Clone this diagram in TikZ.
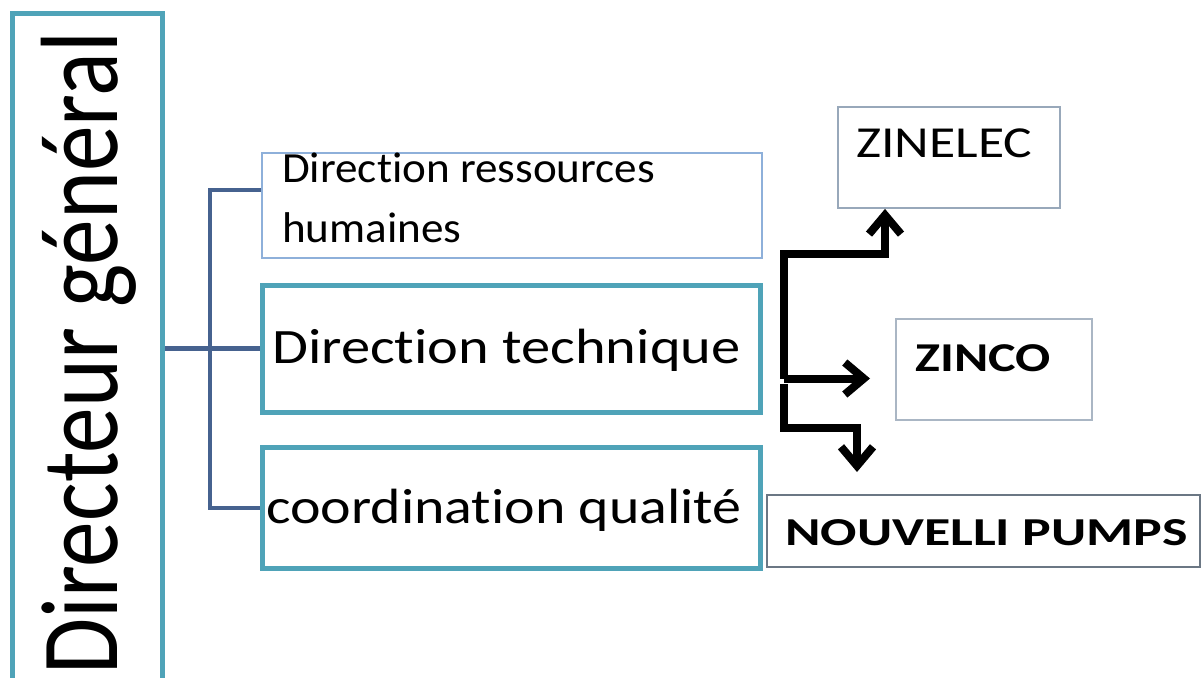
\documentclass[tikz,border=0pt]{standalone}
\usepackage{fontspec}
\setmainfont{Carlito}[Ligatures=NoCommon]
\usepackage{graphicx}
\usetikzlibrary{arrows.meta}
\definecolor{tealbox}{HTML}{4FA3B8}
\definecolor{rhblue}{HTML}{8EB0DA}
\definecolor{connblue}{HTML}{46628F}
\definecolor{zbox}{HTML}{98A8BA}
\definecolor{zcbox}{HTML}{AAB6C4}
\definecolor{npbox}{HTML}{6B7784}
\tikzset{
  tbox/.style={draw=tealbox, line width=5pt, rectangle, inner sep=0pt},
  rhbox/.style={draw=rhblue, line width=2.5pt, rectangle, inner sep=0pt},
  thinbox/.style={draw=#1, line width=1.8pt, rectangle, inner sep=0pt},
  lab/.style={inner sep=0pt, anchor=base west},
  conn/.style={draw=connblue, line width=4.5pt},
  arr/.style={draw=black, line width=8pt, -{Straight Barb[length=19pt,width=32pt]}},
}
\begin{document}
\begin{tikzpicture}[x=1pt,y=1pt]
\useasboundingbox (0,0) rectangle (1204,-677);
\fill[white] (0,0) rectangle (1204,-677);
% boxes
\node[tbox, minimum width=150pt, minimum height=686pt] (DG) at (87.5,-357) {};
\node[rhbox, minimum width=500pt, minimum height=105pt] (RH) at (512,-205.5) {};
\node[tbox, minimum width=498pt, minimum height=127pt] (DT) at (511,-348.5) {};
\node[tbox, minimum width=498pt, minimum height=121pt] (CQ) at (511,-507.5) {};
\node[thinbox=zbox, minimum width=222pt, minimum height=101pt] (ZL) at (949,-157.5) {};
\node[thinbox=zcbox, minimum width=196pt, minimum height=101pt] (ZC) at (994,-369.5) {};
\node[thinbox=npbox, minimum width=433pt, minimum height=72pt] (NP) at (983.5,-531) {};
% texts
\node[lab, rotate=90] (tDG) at (117,-675) {\fontsize{110}{120}\selectfont\scalebox{0.83}[1]{Directeur général}};
\node[lab] (tRH1) at (282,-182) {\fontsize{43}{50}\selectfont\scalebox{1.05}[1]{Direction ressources}};
\node[lab] (tRH2) at (282,-242) {\fontsize{43}{50}\selectfont\scalebox{1.05}[1]{humaines}};
\node[lab] (tDT) at (272,-363) {\fontsize{49.5}{58}\selectfont\scalebox{1.18}[1]{Direction technique}};
\node[lab] (tCQ) at (266,-523) {\fontsize{49.5}{58}\selectfont\scalebox{1.17}[1]{coordination qualité}};
\node[lab] (tZL) at (856,-157) {\fontsize{44.3}{50}\selectfont\scalebox{1.21}[1]{ZINELEC}};
\node[lab] (tZC) at (915,-371) {\fontsize{41}{48}\selectfont\bfseries\scalebox{1.27}[1]{ZINCO}};
\node[lab] (tNP) at (785,-545) {\fontsize{39.6}{47}\selectfont\bfseries\scalebox{1.36}[1]{NOUVELLI PUMPS}};
% connectors
\coordinate (jt) at (210,-190);
\coordinate (jb) at (210,-508);
\draw[conn] (DG.east |- DT.west) -- (DT.west);
\draw[conn] (RH.west |- jt) -- (jt) -- (jb) -- (CQ.west |- jb);
% arrows
\coordinate (a0) at (783.5,-378.5);
\coordinate (a1) at (885,-253.5);
\coordinate (c1) at (870,-378.5);
\coordinate (d0) at (783.5,-384);
\coordinate (d1) at (857,-428);
\coordinate (d2) at (857,-472);
\draw[arr] (a0) |- (a1) -- (a1 |- ZL.south);
\draw[arr] (a0) -- (c1);
\draw[arr] (d0) |- (d1) -- (d2);
\end{tikzpicture}
\end{document}
